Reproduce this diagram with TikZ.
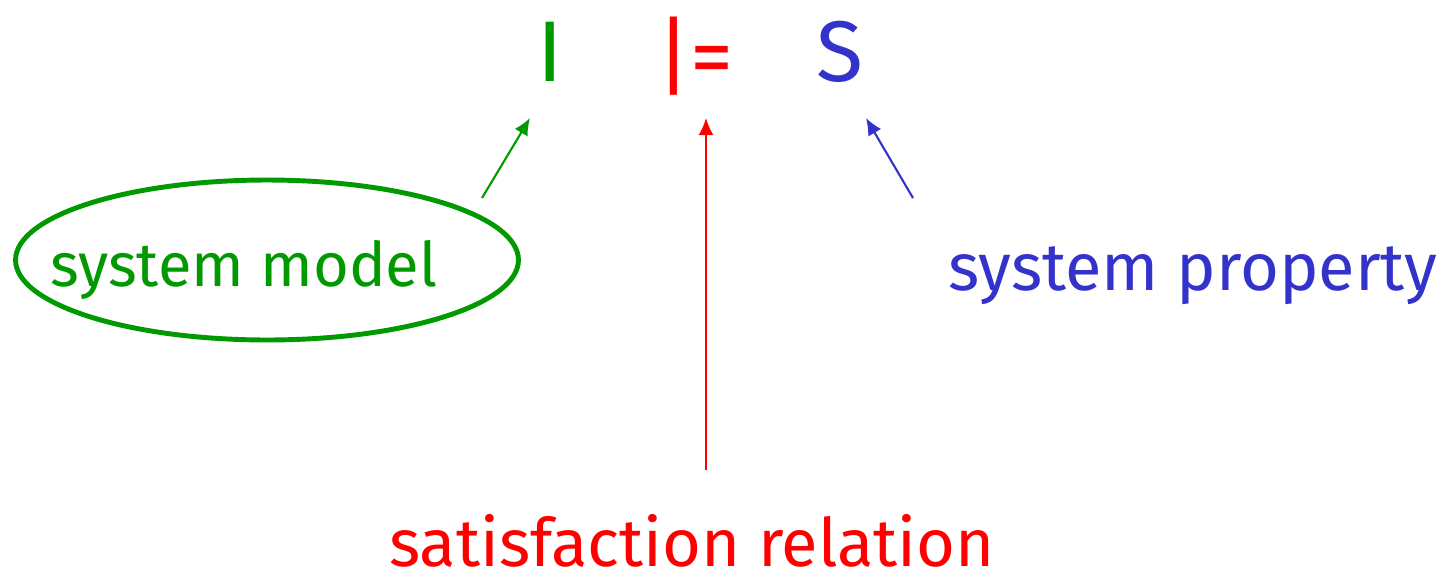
\documentclass[tikz,border=0pt]{standalone}
\usepackage{fontspec}
\setmainfont{Fira Sans}
\usetikzlibrary{shapes.geometric,arrows.meta}
\definecolor{modelgreen}{RGB}{0,153,0}
\definecolor{relred}{RGB}{255,0,0}
\definecolor{propblue}{RGB}{51,51,204}
\begin{document}
\begin{tikzpicture}[x=0.02cm,y=-0.02cm,>={Latex[length=0.34cm,width=0.3cm]}]
    \tikzstyle{sym}=[inner sep=0pt, font=\fontsize{49}{52}\selectfont]
    \tikzstyle{lbl}=[inner sep=0pt, anchor=base, font=\fontsize{38}{42}\selectfont]
    \tikzstyle{conn}=[->, line width=1.2pt]
    \useasboundingbox (0,0) rectangle (1447,582);
    % top line: I |= S
    \node[sym, text=modelgreen] (impl) at (550,52) {I};
    \node[sym, text=relred] (sat) at (695,56) {|=};
    \node[sym, text=propblue] (spec) at (840,52) {S};
    % labels
    \node[ellipse, draw=modelgreen, line width=2.8pt, minimum width=10.06cm, minimum height=3.2cm] (model) at (267,260) {};
    \node[lbl, text=modelgreen, font=\fontsize{35}{40}\selectfont] (modeltxt) at (244,286) {system model};
    \node[lbl, text=propblue] (prop) at (1193,290) {system property};
    \node[lbl, text=relred] (rel) at (692,566) {satisfaction relation};
    \coordinate (modeltail) at (482,198);
    \coordinate (reltail) at (706,470);
    \coordinate (proptail) at (913,198);
    \coordinate (impltip) at (530,118);
    \coordinate (sattip) at (706,118);
    \coordinate (spectip) at (866,118);
    \draw[conn, modelgreen] (modeltail) -- (impltip);
    \draw[conn, relred] (reltail) -- (sattip);
    \draw[conn, propblue] (proptail) -- (spectip);
  \end{tikzpicture}
\end{document}
